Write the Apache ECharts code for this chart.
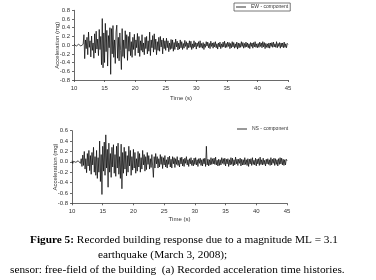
<!DOCTYPE html>
<html>
<head>
<meta charset="utf-8">
<script src="https://cdn.jsdelivr.net/npm/echarts@6/dist/echarts.min.js"></script>
<style>
  html, body { margin: 0; padding: 0; background: #fff; }
  #chart { width: 376px; height: 280px; }
</style>
</head>
<body>
<div id="chart"></div>
<script>
// sampling: 10 s .. 45 s, 8 samples per second
const tStart = 10
const dt = 0.125
const timeTicks = [10, 15, 20, 25, 30, 35, 40, 45]

// EW - component, acceleration (mg), one row per second
const ewData = [
  0.02, -0.01, 0.03, -0.02, 0.01, -0.03, 0.02, -0.01,
  0.03, -0.02, 0.01, -0.03, 0.02, 0.24, -0.31, 0.12,
  -0.08, 0.18, -0.22, 0.3, -0.05, 0.1, -0.27, 0.21,
  -0.12, 0.05, -0.3, 0.26, -0.18, 0.32, -0.09, 0.14,
  -0.24, 0.36, -0.1, 0.2, -0.45, 0.61, -0.52, 0.28,
  -0.4, 0.5, -0.15, 0.34, -0.48, 0.22, -0.06, 0.4,
  -0.67, 0.38, -0.2, 0.45, -0.28, 0.12, -0.42, 0.3,
  0.46, -0.3, 0.18, -0.36, 0.28, -0.12, -0.56, 0.38,
  -0.26, 0.12, -0.3, 0.33, -0.08, 0.24, -0.35, 0.2,
  -0.14, 0.3, -0.24, 0.08, -0.28, 0.18, -0.1, 0.25,
  -0.24, 0.12, -0.06, 0.27, -0.18, 0.2, -0.26, 0.1,
  -0.12, 0.24, -0.16, 0.05, -0.22, 0.18, -0.08, 0.2,
  -0.2, 0.1, -0.14, 0.3, -0.24, 0.12, -0.06, 0.22,
  -0.16, 0.26, -0.1, 0.14, -0.22, 0.08, -0.12, 0.18,
  -0.14, 0.2, -0.04, 0.12, -0.2, 0.16, -0.08, 0.1,
  -0.12, 0.16, -0.06, 0.1, -0.15, 0.05, -0.1, 0.13,
  -0.08, 0.12, -0.14, 0.06, -0.1, 0.14, -0.04, 0.09,
  -0.11, 0.05, -0.09, 0.12, -0.06, 0.08, -0.1, 0.04,
  -0.07, 0.11, -0.03, 0.08, -0.1, 0.05, -0.06, 0.1,
  -0.05, 0.09, -0.1, 0.03, -0.07, 0.1, -0.04, 0.06,
  -0.09, 0.05, -0.03, 0.08, -0.06, 0.1, -0.05, 0.04,
  -0.07, 0.06, -0.1, 0.03, -0.05, 0.08, -0.02, 0.07,
  -0.06, 0.04, -0.08, 0.09, -0.03, 0.05, -0.07, 0.06,
  -0.04, 0.08, -0.06, 0.03, -0.09, 0.05, -0.04, 0.07,
  -0.08, 0.03, -0.05, 0.07, -0.04, 0.09, -0.06, 0.04,
  -0.05, 0.07, -0.03, 0.06, -0.08, 0.04, -0.06, 0.08,
  -0.04, 0.06, -0.07, 0.03, -0.05, 0.07, -0.09, 0.05,
  -0.06, 0.04, -0.05, 0.08, -0.03, 0.06, -0.07, 0.04,
  -0.05, 0.07, -0.04, 0.05, -0.06, 0.03, -0.08, 0.06,
  -0.03, 0.05, -0.07, 0.06, -0.04, 0.08, -0.05, 0.03,
  -0.06, 0.04, -0.05, 0.07, -0.03, 0.05, -0.06, 0.08,
  -0.04, 0.06, -0.08, 0.04, -0.05, 0.03, -0.06, 0.05,
  -0.07, 0.05, -0.03, 0.06, -0.05, 0.07, -0.04, 0.03,
  -0.05, 0.08, -0.06, 0.04, -0.03, 0.06, -0.07, 0.05,
  -0.04, 0.05, -0.06, 0.07, -0.05, 0.03, -0.06, 0.04,
  0.02
]

// NS - component, acceleration (mg)
const nsData = [
  0.02, -0.03, 0.01, -0.02, 0.03, -0.01, 0.02, -0.03,
  0.02, -0.01, 0.04, -0.03, 0.06, -0.09, 0.13, -0.07,
  0.2, -0.14, 0.06, -0.21, 0.16, -0.08, 0.22, -0.17,
  0.12, -0.24, 0.18, -0.06, 0.28, -0.2, 0.1, -0.26,
  0.22, -0.32, 0.08, -0.2, 0.4, -0.38, 0.14, -0.63,
  0.3, -0.18, 0.38, -0.26, 0.52, -0.12, 0.24, -0.49,
  0.36, -0.2, 0.16, -0.3, 0.28, -0.1, 0.33, -0.22,
  0.14, -0.28, 0.3, -0.12, 0.36, -0.24, 0.1, -0.32,
  0.34, -0.52, 0.18, -0.22, 0.28, -0.14, 0.2, -0.27,
  0.12, -0.2, 0.3, -0.08, 0.22, -0.26, 0.1, -0.16,
  0.24, -0.12, 0.18, -0.22, 0.06, -0.18, 0.2, -0.1,
  0.16, -0.2, 0.08, -0.14, 0.22, -0.06, 0.14, -0.18,
  0.1, -0.15, 0.18, -0.05, 0.12, -0.14, 0.06, -0.11,
  0.14, -0.08, -0.3, 0.1, -0.12, 0.16, -0.04, 0.1,
  -0.12, 0.06, -0.1, 0.14, -0.05, 0.1, -0.13, 0.08,
  -0.06, 0.12, -0.1, 0.04, -0.12, 0.09, -0.05, 0.11,
  -0.1, 0.05, -0.12, 0.1, -0.04, 0.08, -0.11, 0.06,
  -0.05, 0.1, -0.07, 0.03, -0.1, 0.08, -0.04, 0.09,
  -0.08, 0.05, -0.09, 0.07, -0.03, 0.1, -0.06, 0.04,
  -0.09, 0.06, -0.04, 0.08, -0.07, 0.03, -0.08, 0.07,
  -0.05, 0.08, -0.06, 0.04, -0.09, 0.06, -0.03, 0.07,
  -0.07, 0.04, -0.08, 0.06, -0.04, 0.07, -0.09, 0.3,
  -0.06, 0.05, -0.08, 0.04, -0.06, 0.08, -0.05, 0.06,
  -0.04, 0.07, -0.05, 0.09, -0.06, 0.03, -0.08, 0.05,
  -0.07, 0.04, -0.06, 0.08, -0.03, 0.06, -0.05, 0.07,
  -0.08, 0.05, -0.04, 0.06, -0.09, 0.04, -0.06, 0.08,
  -0.05, 0.07, -0.08, 0.04, -0.06, 0.09, -0.04, 0.05,
  -0.07, 0.05, -0.03, 0.07, -0.08, 0.05, -0.06, 0.04,
  -0.06, 0.08, -0.05, 0.04, -0.07, 0.06, -0.09, 0.05,
  -0.04, 0.06, -0.07, 0.08, -0.05, 0.03, -0.06, 0.07,
  -0.08, 0.05, -0.04, 0.06, -0.07, 0.09, -0.05, 0.04,
  -0.06, 0.07, -0.05, 0.03, -0.08, 0.05, -0.04, 0.06,
  -0.05, 0.04, -0.07, 0.08, -0.06, 0.05, -0.03, 0.07,
  -0.07, 0.06, -0.05, 0.04, -0.08, 0.06, -0.05, 0.08,
  -0.04, 0.07, -0.06, 0.05, -0.07, 0.04, -0.06, 0.05,
  0.02
]

const ewTicks = [-0.8, -0.6, -0.4, -0.2, 0.0, 0.2, 0.4, 0.6, 0.8]
const nsTicks = [-0.8, -0.6, -0.4, -0.2, 0.0, 0.2, 0.4, 0.6]

const toPairs = arr => arr.map((v, i) => [tStart + i * dt, v])

const chart = echarts.init(document.getElementById('chart'))

const labelFont = { fontFamily: 'Liberation Sans', fontSize: 6, color: '#333' }
const axisLine = { lineStyle: { color: '#444', width: 0.8 } }

function xAxisCfg(gridIndex, gap) {
  return {
    type: 'value',
    gridIndex,
    min: timeTicks[0],
    max: timeTicks[timeTicks.length - 1],
    interval: 5,
    name: 'Time (s)',
    nameLocation: 'middle',
    nameGap: gap,
    nameMoveOverlap: false,
    nameTextStyle: labelFont,
    axisLine: { ...axisLine, onZero: false },
    axisTick: { length: 2, lineStyle: { color: '#444', width: 0.8 } },
    axisLabel: { ...labelFont, margin: 5 },
    splitLine: { show: false }
  }
}

function yAxisCfg(gridIndex, ticks) {
  return {
    type: 'value',
    gridIndex,
    min: ticks[0],
    max: ticks[ticks.length - 1],
    interval: 0.2,
    name: 'Acceleration (mg)',
    nameLocation: 'middle',
    nameGap: 14,
    nameMoveOverlap: false,
    nameTextStyle: labelFont,
    axisLine: { show: true, ...axisLine },
    axisTick: { show: true, length: 2, lineStyle: { color: '#444', width: 0.8 } },
    axisLabel: { ...labelFont, margin: 4, formatter: v => v.toFixed(1) },
    splitLine: { show: false }
  }
}

const legendText = { ...labelFont, fontSize: 5 }

const option = {
  animation: false,
  backgroundColor: '#fff',
  grid: [
    { left: 74, top: 10.3, width: 214, height: 69.7 },
    { left: 72, top: 130.7, width: 215, height: 72.6 }
  ],
  xAxis: [xAxisCfg(0, 15), xAxisCfg(1, 13)],
  yAxis: [yAxisCfg(0, ewTicks), yAxisCfg(1, nsTicks)],
  legend: [
    {
      data: ['EW - component'],
      left: 234, top: 3,
      padding: [1.5, 2],
      borderColor: '#555', borderWidth: 0.8,
      icon: 'rect', itemWidth: 10, itemHeight: 0.8, itemGap: 3,
      textStyle: legendText
    },
    {
      data: ['NS - component'],
      left: 235, top: 125,
      padding: [1.5, 2],
      icon: 'rect', itemWidth: 10, itemHeight: 0.8, itemGap: 3,
      textStyle: legendText
    }
  ],
  series: [
    {
      name: 'EW - component', type: 'line',
      xAxisIndex: 0, yAxisIndex: 0,
      data: toPairs(ewData),
      symbol: 'none',
      lineStyle: { color: '#000', width: 0.7 },
      itemStyle: { color: '#000' }
    },
    {
      name: 'NS - component', type: 'line',
      xAxisIndex: 1, yAxisIndex: 1,
      data: toPairs(nsData),
      symbol: 'none',
      lineStyle: { color: '#000', width: 0.7 },
      itemStyle: { color: '#000' }
    }
  ],
  graphic: [
    {
      type: 'text', left: 30, top: 235,
      style: {
        text: '{b|Figure 5:} Recorded building response due to a magnitude ML = 3.1',
        font: '11.3px "Liberation Serif"', fill: '#000',
        rich: { b: { fontWeight: 'bold', fontFamily: 'Liberation Serif', fontSize: 11.3 } }
      }
    },
    {
      type: 'text', left: 98, top: 250,
      style: { text: 'earthquake (March 3, 2008);', font: '11.3px "Liberation Serif"', fill: '#000' }
    },
    {
      type: 'text', left: 10, top: 265,
      style: {
        text: 'sensor: free-field of the building  (a) Recorded acceleration time histories.',
        font: '11.3px "Liberation Serif"', fill: '#000'
      }
    }
  ]
}

chart.setOption(option)
</script>
</body>
</html>
